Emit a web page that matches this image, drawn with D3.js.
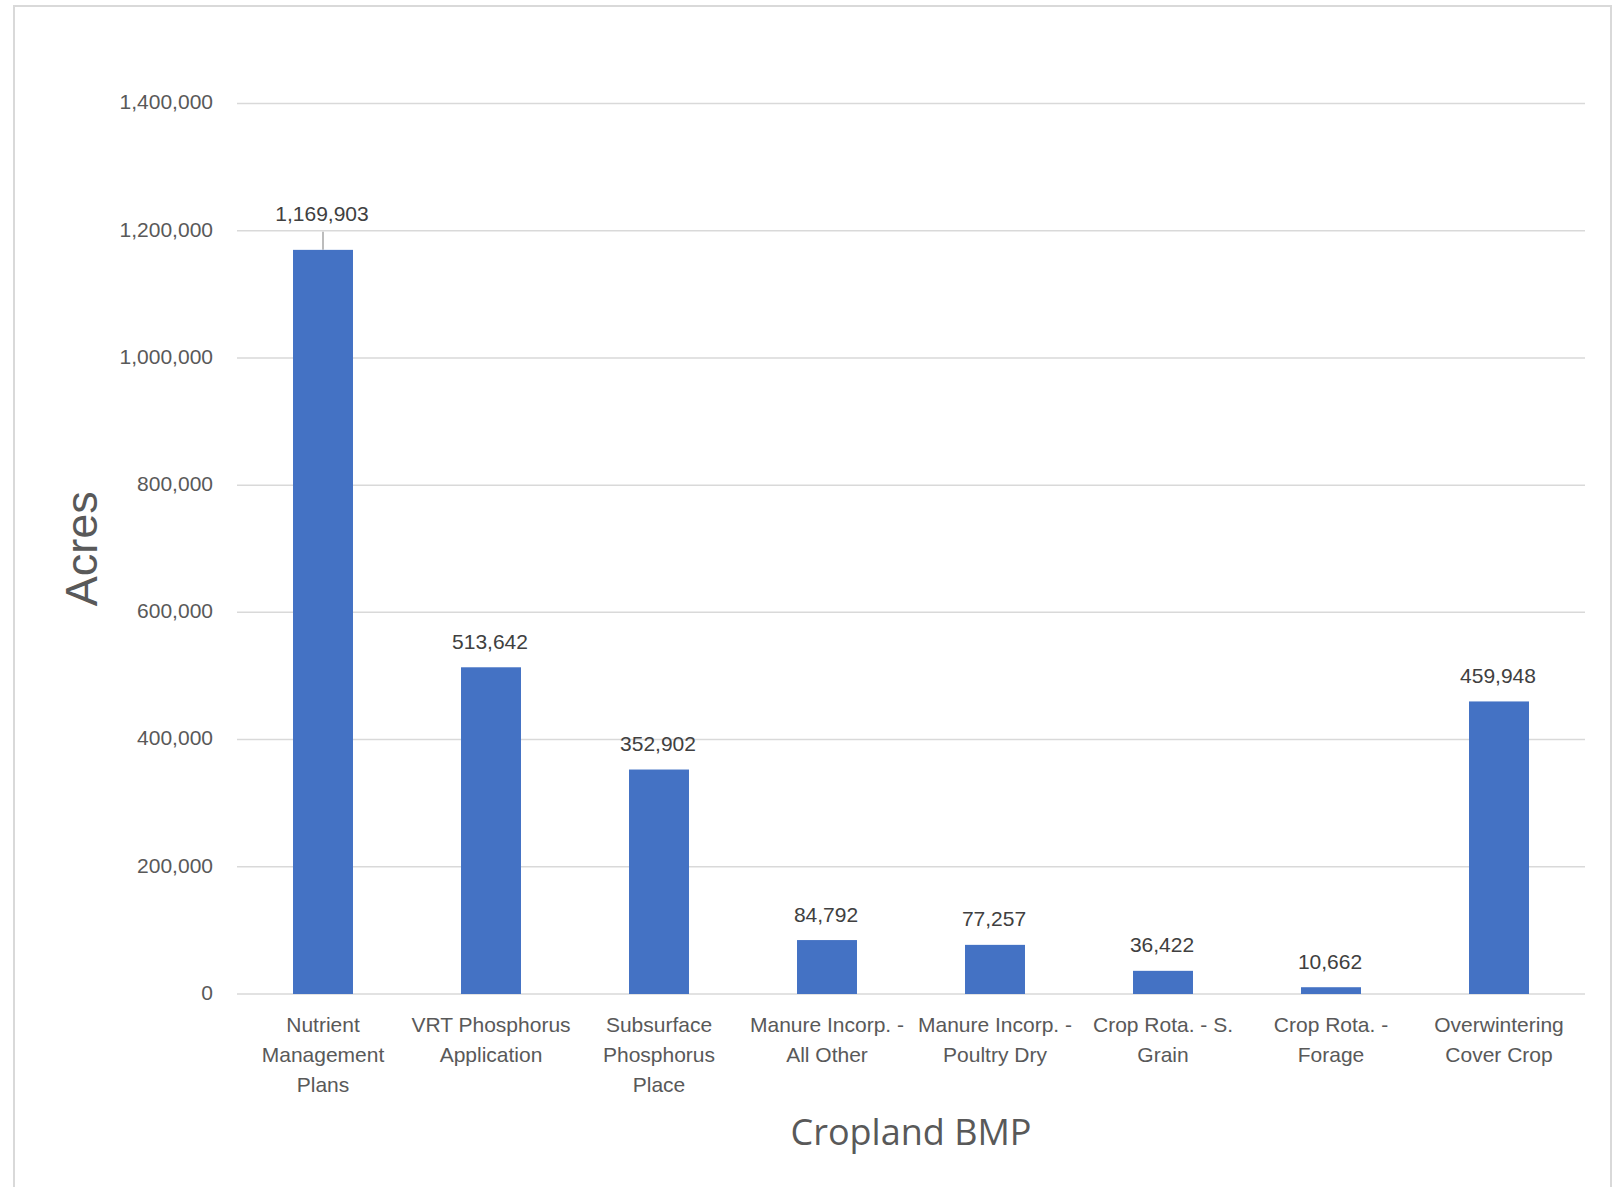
<!DOCTYPE html>
<meta charset="utf-8">
<head>
  <script src="https://d3js.org/d3.v7.min.js"></script>
  <style>
    body { margin: 0; background: #fff; }
    text { font-family: "Liberation Sans", Arial, sans-serif; }
  </style>
</head>
<body>
<svg width="1614" height="1187"></svg>
<script>
// chart data
var categories = [
  ["Nutrient", "Management", "Plans"],
  ["VRT Phosphorus", "Application"],
  ["Subsurface", "Phosphorus", "Place"],
  ["Manure Incorp. -", "All Other"],
  ["Manure Incorp. -", "Poultry Dry"],
  ["Crop Rota. - S.", "Grain"],
  ["Crop Rota. -", "Forage"],
  ["Overwintering", "Cover Crop"]
];
var acres = [1169903, 513642, 352902, 84792, 77257, 36422, 10662, 459948];
var yTicks = [0, 200000, 400000, 600000, 800000, 1000000, 1200000, 1400000];
var yTitle = "Acres";
var xTitle = "Cropland BMP";

var svg = d3.select("svg");
var fmt = d3.format(",");

// outer frame
svg.append("rect")
  .attr("x", 14).attr("y", 6)
  .attr("width", 1597).attr("height", 1200)
  .attr("fill", "none")
  .attr("stroke", "#d9d9d9")
  .attr("stroke-width", 2);

var plot = {left: 239, right: 1583, top: 103.5, bottom: 994};

var x = d3.scaleBand()
  .domain(d3.range(categories.length))
  .range([plot.left, plot.right])
  .paddingInner(0.643)
  .paddingOuter(0.3215);

var y = d3.scaleLinear().domain([0, 1400000]).range([plot.bottom, plot.top]);

// gridlines
svg.append("g")
  .selectAll("line")
  .data(yTicks)
  .enter().append("line")
  .attr("x1", 237).attr("x2", 1585)
  .attr("y1", function(d) { return y(d); })
  .attr("y2", function(d) { return y(d); })
  .attr("stroke", "#d9d9d9")
  .attr("stroke-width", 1.5);

// y tick labels
svg.append("g")
  .selectAll("text")
  .data(yTicks)
  .enter().append("text")
  .attr("x", 213)
  .attr("y", function(d) { return y(d); })
  .attr("dy", "0.28em")
  .attr("text-anchor", "end")
  .attr("fill", "#595959")
  .style("font-size", "21px")
  .text(function(d) { return fmt(d); });

// bars
svg.append("g")
  .selectAll("rect")
  .data(acres)
  .enter().append("rect")
  .attr("x", function(d, i) { return x(i); })
  .attr("width", x.bandwidth())
  .attr("y", function(d) { return y(d); })
  .attr("height", function(d) { return y(0) - y(d); })
  .attr("fill", "#4472c4");

// data labels (first one was dragged up in the original, with a leader line)
svg.append("line")
  .attr("x1", x(0) + x.bandwidth() / 2).attr("x2", x(0) + x.bandwidth() / 2)
  .attr("y1", y(acres[0]) - 18).attr("y2", y(acres[0]))
  .attr("stroke", "#a6a6a6")
  .attr("stroke-width", 1.5);

svg.append("g")
  .selectAll("text")
  .data(acres)
  .enter().append("text")
  .attr("x", function(d, i) { return x(i) + x.bandwidth() / 2 - 1; })
  .attr("y", function(d, i) { return y(d) - (i == 0 ? 29 : 18.5); })
  .attr("text-anchor", "middle")
  .attr("fill", "#404040")
  .style("font-size", "21px")
  .text(function(d) { return fmt(d); });

// category labels
var catG = svg.append("g")
  .selectAll("text")
  .data(categories)
  .enter().append("text")
  .attr("text-anchor", "middle")
  .attr("fill", "#595959")
  .style("font-size", "21px");

catG.selectAll("tspan")
  .data(function(d, i) { return d.map(function(s) { return {s: s, i: i}; }); })
  .enter().append("tspan")
  .attr("x", function(d) { return x(d.i) + x.bandwidth() / 2; })
  .attr("y", function(d, j) { return 1032 + j * 30; })
  .text(function(d) { return d.s; });

// axis titles
svg.append("text")
  .attr("transform", "translate(97," + ((plot.top + plot.bottom) / 2) + ") rotate(-90)")
  .attr("text-anchor", "middle")
  .attr("fill", "#595959")
  .style("font-size", "45px")
  .text(yTitle);

svg.append("text")
  .attr("x", (plot.left + plot.right) / 2)
  .attr("y", 1145)
  .attr("text-anchor", "middle")
  .attr("fill", "#595959")
  .style("font-family", "'Open Sans', sans-serif")
  .style("font-size", "36px")
  .text(xTitle);
</script>
</body>
